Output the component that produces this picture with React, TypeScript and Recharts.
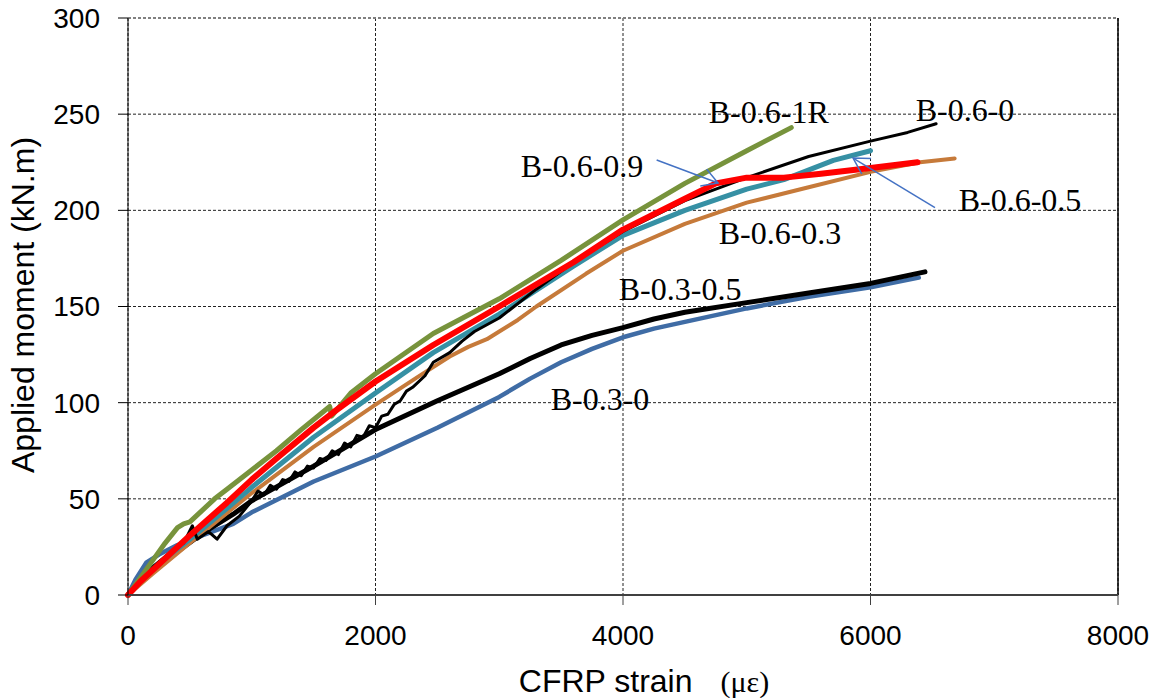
import {
  LineChart,
  Line,
  XAxis,
  YAxis,
  CartesianGrid,
  ReferenceLine,
  ReferenceDot,
} from 'recharts';

// [CFRP strain (με), applied moment (kN.m)]
const b03_0: [number, number][] = [
  [0, 0], [60, 8], [150, 17], [250, 21], [400, 26], [600, 31], [850, 37], [1000, 43],
  [1500, 59], [2000, 72], [2500, 87], [3000, 103], [3250, 112.5], [3500, 121],
  [3750, 128], [4000, 134], [4250, 138.5], [4500, 142], [5000, 149], [5500, 155],
  [6000, 160], [6390, 165],
];

const b03_05: [number, number][] = [
  [0, 0], [150, 10], [300, 18], [600, 32], [850, 42], [1000, 49], [1500, 67],
  [2000, 86], [2500, 101], [3000, 115], [3250, 123], [3500, 130], [3750, 135],
  [4000, 139], [4250, 143.5], [4500, 147], [5000, 152], [5500, 157], [6000, 162],
  [6440, 168],
];

const b06_03: [number, number][] = [
  [0, 0], [200, 11], [500, 27], [1000, 53], [1500, 77], [2000, 99], [2333, 113],
  [2600, 124], [2750, 129], [2900, 133], [3000, 137], [3150, 143], [3300, 150],
  [3700, 167], [4000, 179], [4500, 193], [5000, 204], [5500, 212], [6000, 220],
  [6400, 225], [6680, 227],
];

const b06_09: [number, number][] = [
  [0, 0], [100, 8], [200, 14], [500, 29], [800, 45], [1000, 56], [1500, 82],
  [2000, 105], [2467, 126], [3000, 146], [3600, 171], [4000, 187], [4500, 200],
  [5000, 211], [5300, 216], [5700, 226], [6000, 231],
];

const b06_0: [number, number][] = [
  [0, 0], [150, 12], [300, 20], [450, 27], [520, 36], [560, 29], [650, 33], [720, 29],
  [800, 36], [900, 41], [1000, 49], [1050, 54], [1100, 52], [1150, 57], [1200, 55],
  [1250, 60], [1300, 59], [1350, 64], [1400, 62], [1450, 67], [1500, 66], [1550, 71],
  [1600, 70], [1650, 75], [1700, 73], [1750, 79], [1800, 77], [1850, 83], [1900, 82],
  [1950, 88], [2000, 87], [2050, 93], [2100, 94], [2150, 99], [2200, 101],
  [2250, 106], [2300, 108], [2400, 114], [2467, 121], [2600, 126], [2700, 132],
  [2800, 137], [3000, 144], [3300, 159], [3600, 173], [4000, 189], [4500, 205],
  [5000, 217], [5500, 228], [6000, 236], [6300, 240.5], [6530, 245],
];

const b06_1R: [number, number][] = [
  [0, 0], [100, 9], [200, 18], [300, 27], [400, 35], [450, 37], [500, 38], [600, 44],
  [700, 50], [800, 55], [1000, 65], [1200, 75], [1400, 86], [1630, 98], [1645, 93],
  [1800, 105], [2000, 115], [2200, 124], [2467, 136], [3000, 154], [3500, 174],
  [4000, 195], [4500, 214], [5000, 231], [5360, 243],
];

const b06_05: [number, number][] = [
  [0, 0], [100, 7], [300, 19], [500, 31], [800, 48], [1000, 60], [1200, 71],
  [1500, 87], [1660, 95], [2000, 111], [2467, 130], [3000, 150], [3600, 173],
  [4000, 190], [4500, 206], [4750, 214], [5000, 217], [5300, 217], [5600, 219],
  [6000, 222], [6380, 225],
];

const xTicks = [0, 2000, 4000, 6000, 8000];
const yTicks = [0, 50, 100, 150, 200, 250, 300];

// specimen labels: [text, strain, moment] at the text baseline centre
const specimenLabels: [string, number, number][] = [
  ['B-0.6-1R', 5178, 245.6],
  ['B-0.6-0', 6764, 246.6],
  ['B-0.6-0.9', 3669, 217.3],
  ['B-0.6-0.5', 7208, 199.8],
  ['B-0.6-0.3', 5269, 182.5],
  ['B-0.3-0.5', 4461, 153.4],
  ['B-0.3-0', 3814, 96.2],
];

// leader arrows: tail -> tip
const arrows: [[number, number], [number, number]][] = [
  [[4272, 226.2], [4768, 214.2]],
  [[6521, 201.4], [5859, 227.2]],
];

const toPoints = (rows: [number, number][]) => rows.map(([x, y]) => ({ x, y }));

const series = [
  { name: 'B-0.3-0', rows: b03_0, color: '#3F6CA5', width: 4.5 },
  { name: 'B-0.3-0.5', rows: b03_05, color: '#000000', width: 5 },
  { name: 'B-0.6-0.3', rows: b06_03, color: '#C67A3A', width: 4 },
  { name: 'B-0.6-0.9', rows: b06_09, color: '#3690A4', width: 5 },
  { name: 'B-0.6-0', rows: b06_0, color: '#000000', width: 3 },
  { name: 'B-0.6-1R', rows: b06_1R, color: '#77933C', width: 5 },
  { name: 'B-0.6-0.5', rows: b06_05, color: '#FF0000', width: 6 },
];

const serif = '"Liberation Serif", "Times New Roman", serif';
const sans = '"Liberation Sans", Arial, sans-serif';

function ArrowShape(props: any) {
  const { x1, y1, x2, y2 } = props;
  const ang = Math.atan2(y1 - y2, x1 - x2);
  const len = 18;
  const spread = (30 * Math.PI) / 180;
  const ax = x2 + len * Math.cos(ang + spread);
  const ay = y2 + len * Math.sin(ang + spread);
  const bx = x2 + len * Math.cos(ang - spread);
  const by = y2 + len * Math.sin(ang - spread);
  return (
    <g stroke="#4472C4" strokeWidth={1.5} fill="none">
      <line x1={x1} y1={y1} x2={x2} y2={y2} />
      <polyline points={`${ax},${ay} ${x2},${y2} ${bx},${by}`} />
    </g>
  );
}

function XTitle(props: any) {
  const { viewBox } = props;
  const cx = viewBox.x + viewBox.width / 2 + 21;
  return (
    <text x={cx} y={692} textAnchor="middle" fill="#000">
      <tspan fontFamily={sans} fontSize={32}>CFRP strain</tspan>
      <tspan dx={28} fontFamily={serif} fontSize={30}>(με)</tspan>
    </text>
  );
}

function YTitle() {
  return (
    <text
      x={34}
      y={305}
      transform="rotate(-90, 34, 305)"
      textAnchor="middle"
      fontFamily={sans}
      fontSize={32}
      fill="#000"
    >
      Applied moment (kN.m)
    </text>
  );
}

export default function App() {
  return (
    <div style={{ width: 1158, height: 698, background: '#fff' }}>
      <style>{'body{margin:0}'}</style>
      <LineChart
        width={1158}
        height={698}
        margin={{ top: 18, right: 40, bottom: 0, left: 0 }}
      >
        <CartesianGrid
          stroke="#222"
          strokeDasharray="3 2"
          strokeWidth={1}
          horizontalValues={yTicks}
          verticalValues={xTicks}
        />
        <XAxis
          type="number"
          dataKey="x"
          domain={[0, 8000]}
          ticks={xTicks}
          height={103}
          tickSize={10}
          tickMargin={20}
          axisLine={{ stroke: '#404040', strokeWidth: 2 }}
          tickLine={{ stroke: '#404040' }}
          tick={{ fill: '#000', fontSize: 28, fontFamily: sans }}
          label={<XTitle />}
        />
        <YAxis
          type="number"
          dataKey="y"
          domain={[0, 300]}
          ticks={yTicks}
          width={128}
          tickSize={10}
          tickMargin={18}
          axisLine={{ stroke: '#000', strokeWidth: 1 }}
          tickLine={{ stroke: '#000' }}
          tick={{ fill: '#000', fontSize: 28, fontFamily: sans }}
          label={<YTitle />}
        />
        <ReferenceLine y={300} stroke="#808080" strokeWidth={2} strokeDasharray="3 2" />
        <ReferenceLine x={8000} stroke="#000" strokeWidth={1.5} />
        {series.map((s) => (
          <Line
            key={s.name}
            name={s.name}
            data={toPoints(s.rows)}
            dataKey="y"
            type="linear"
            stroke={s.color}
            strokeWidth={s.width}
            strokeLinejoin="round"
            strokeLinecap="round"
            dot={false}
            activeDot={false}
            isAnimationActive={false}
          />
        ))}
        {arrows.map(([tail, tip], i) => (
          <ReferenceLine
            key={`arrow-${i}`}
            segment={[
              { x: tail[0], y: tail[1] },
              { x: tip[0], y: tip[1] },
            ]}
            shape={ArrowShape}
          />
        ))}
        {specimenLabels.map(([text, x, y]) => (
          <ReferenceDot
            key={text}
            x={x}
            y={y}
            r={0}
            shape={(p: any) => (
              <text
                x={p.cx}
                y={p.cy}
                textAnchor="middle"
                fontFamily={serif}
                fontSize={32}
                fill="#000"
              >
                {text}
              </text>
            )}
          />
        ))}
      </LineChart>
    </div>
  );
}
